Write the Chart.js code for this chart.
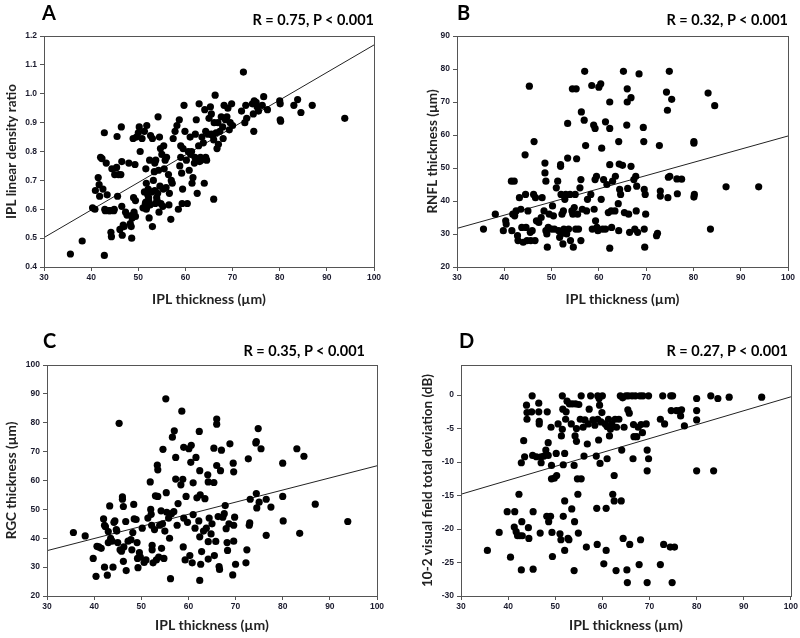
<!DOCTYPE html>
<html>
<head>
<meta charset="utf-8">
<script src="https://cdn.jsdelivr.net/npm/chart.js@4"></script>
<style>
  body { margin: 0; background: #fff; }
  #wrap { position: relative; width: 800px; height: 638px; overflow: hidden; }
  .panel { position: absolute; }
  .lbl { position: absolute; font-family: Lato, "Liberation Sans", sans-serif; font-weight: bold; color: #000; line-height: 1; white-space: nowrap; }
  .letter { font-size: 20px; }
  .stat { font-size: 14.5px; text-align: right; }
</style>
</head>
<body>
<div id="wrap">
  <div class="panel" style="left:0;top:0;width:400px;height:312px"><canvas id="cA"></canvas></div>
  <div class="panel" style="left:400px;top:0;width:400px;height:312px"><canvas id="cB"></canvas></div>
  <div class="panel" style="left:0;top:320px;width:400px;height:318px"><canvas id="cC"></canvas></div>
  <div class="panel" style="left:400px;top:320px;width:400px;height:318px"><canvas id="cD"></canvas></div>

  <div class="lbl letter" style="left:42px;top:2px">A</div>
  <div class="lbl stat" style="right:426px;top:13px">R = 0.75, P &lt; 0.001</div>
  <div class="lbl letter" style="left:457px;top:2px">B</div>
  <div class="lbl stat" style="right:12px;top:13px">R = 0.32, P &lt; 0.001</div>
  <div class="lbl letter" style="left:43px;top:330px">C</div>
  <div class="lbl stat" style="right:435px;top:344px">R = 0.35, P &lt; 0.001</div>
  <div class="lbl letter" style="left:459px;top:330px">D</div>
  <div class="lbl stat" style="right:12px;top:344px">R = 0.27, P &lt; 0.001</div>
</div>
<script>
// IPL thickness (x) vs. each measure (y)
const ptsA = [
  [35.6,0.445],[38.1,0.49],[40.3,0.605],[40.8,0.6],[40.9,0.665],[41.5,0.71],[41.7,0.685],[41.8,0.645],
  [42.0,0.78],[42.3,0.775],[42.5,0.67],[42.8,0.865],[42.8,0.44],[42.9,0.6],[43.0,0.595],[43.2,0.76],
  [43.4,0.65],[43.8,0.595],[44.0,0.595],[44.2,0.52],[44.3,0.505],[44.4,0.74],[44.8,0.595],[44.9,0.6],
  [45.0,0.72],[45.4,0.745],[45.5,0.852],[45.6,0.645],[45.8,0.72],[46.1,0.53],[46.3,0.72],[46.4,0.885],
  [46.5,0.765],[46.5,0.61],[46.6,0.51],[46.8,0.545],[47.0,0.54],[47.3,0.59],[47.6,0.58],[48.0,0.76],
  [48.3,0.55],[48.5,0.54],[48.6,0.5],[48.7,0.57],[48.8,0.58],[48.9,0.845],[49.0,0.64],[49.1,0.59],
  [49.3,0.755],[49.4,0.63],[49.4,0.575],[49.6,0.85],[50.0,0.865],[50.2,0.885],[50.4,0.8],[50.8,0.845],
  [51.0,0.605],[51.3,0.87],[51.3,0.66],[51.5,0.62],[51.6,0.74],[51.6,0.625],[51.7,0.69],[51.7,0.6],
  [51.8,0.89],[51.9,0.61],[52.0,0.65],[52.1,0.67],[52.2,0.63],[52.2,0.64],[52.3,0.57],[52.4,0.77],
  [52.5,0.615],[52.6,0.855],[52.8,0.66],[53.0,0.845],[53.0,0.54],[53.2,0.7],[53.4,0.73],[53.5,0.76],
  [53.5,0.665],[53.6,0.62],[53.7,0.77],[53.9,0.64],[54.0,0.63],[54.1,0.655],[54.2,0.92],[54.3,0.735],
  [54.4,0.59],[54.5,0.85],[54.6,0.68],[54.7,0.81],[54.8,0.62],[55.0,0.79],[55.2,0.61],[55.3,0.67],
  [55.4,0.82],[55.5,0.74],[55.7,0.77],[55.9,0.675],[56.0,0.78],[56.4,0.72],[56.5,0.615],[56.6,0.655],
  [56.9,0.565],[57.0,0.7],[57.2,0.69],[57.4,0.845],[57.8,0.87],[58.2,0.89],[58.5,0.6],[58.7,0.91],
  [58.8,0.75],[59.0,0.78],[59.0,0.82],[59.2,0.725],[59.3,0.62],[59.4,0.67],[59.5,0.81],[59.7,0.96],
  [59.9,0.87],[60.2,0.77],[60.4,0.62],[60.6,0.8],[60.8,0.735],[61.0,0.85],[61.1,0.79],[61.3,0.8],
  [61.4,0.69],[61.6,0.71],[61.9,0.76],[62.0,0.78],[62.1,0.86],[62.3,0.91],[62.5,0.655],[62.6,0.77],
  [62.8,0.82],[62.9,0.965],[63.0,0.765],[63.2,0.78],[63.3,0.77],[63.5,0.85],[63.8,0.83],[64.0,0.69],
  [64.1,0.945],[64.3,0.87],[64.3,0.78],[64.5,0.77],[64.8,0.86],[65.0,0.915],[65.3,0.955],[65.5,0.93],
  [65.5,0.86],[65.8,0.855],[66.0,0.635],[66.0,0.84],[66.1,0.9],[66.3,0.995],[66.5,0.865],[66.7,0.81],
  [66.9,0.9],[67.0,0.825],[67.3,0.87],[67.6,0.92],[67.9,0.885],[68.0,0.845],[68.2,0.96],[68.5,0.91],
  [68.8,0.92],[69.0,0.95],[69.3,0.875],[69.5,0.9],[69.8,0.965],[70.0,0.89],[71.9,0.94],[72.3,1.075],
  [72.6,0.9],[72.8,0.96],[73.0,0.915],[74.2,0.965],[74.4,0.93],[74.5,0.87],[74.6,0.975],[75.0,0.97],
  [75.2,0.955],[75.5,0.94],[76.3,0.96],[76.6,0.99],[77.4,0.945],[80.0,0.975],[80.1,0.965],[80.1,0.91],
  [80.2,0.905],[83.0,0.96],[83.8,0.98],[84.5,0.935],[86.9,0.96],[93.8,0.915]
];
const ptsB = [
  [35.6,31.5],[38.1,36],[39.8,31],[40.3,34],[40.4,33],[41.5,46],[41.6,31],[41.8,36],[42.1,46],[42.2,35.5],
  [42.5,37],[42.8,29.5],[42.9,28],[43.2,41],[43.5,37.5],[43.7,32],[44.0,27.5],[44.4,54],[44.5,42],[44.6,32],
  [44.8,28],[45.0,37],[45.3,74.8],[45.5,30.5],[45.6,28],[45.9,31],[46.2,42],[46.3,58],[46.5,28],[46.6,41],
  [46.8,34],[47.3,33.5],[47.8,35],[48.0,41],[48.4,37],[48.6,51.5],[48.6,48.5],[48.8,31],[48.8,46],[49.0,30],
  [49.1,26],[49.3,32],[49.5,36],[50.0,31.5],[50.2,38.5],[50.4,35.5],[50.6,31.5],[51.0,44],[51.3,46],[51.5,31],
  [51.7,29],[51.9,51],[51.9,50.5],[52.0,42],[52.0,30],[52.2,36],[52.4,27],[52.5,37],[52.6,31.5],[52.8,40.5],
  [53.0,42],[53.2,30],[53.4,53],[53.4,63.5],[53.6,31.5],[53.9,42],[54.0,28],[54.3,37],[54.4,74],[54.5,36],
  [54.6,26],[54.8,38],[55.0,42],[55.1,31.5],[55.2,74],[55.3,52.8],[55.5,36],[55.7,31.5],[56.0,44],[56.2,46.5],
  [56.2,28],[56.3,67],[56.5,37.5],[56.9,64.5],[57.0,79.3],[57.2,56.8],[57.4,37],[57.6,40.5],[58.3,42],[58.5,75],
  [58.6,31.5],[58.9,63],[59.0,37.5],[59.2,62],[59.2,46.5],[59.3,34],[59.5,47.5],[59.6,32],[59.8,31],[60.0,74.5],
  [60.4,75.5],[60.5,40.5],[60.6,56],[60.8,31.5],[61.0,46.5],[61.4,31.5],[61.4,64],[61.7,45],[62.0,36.5],[62.3,62],
  [62.3,70],[62.3,51],[62.3,25.7],[62.6,37],[62.7,32],[62.9,46],[63.4,37],[63.5,47.5],[64.1,39.2],[64.2,58],
  [64.2,31],[64.3,51.2],[64.4,43.5],[64.6,42],[65.0,50.8],[65.2,79.3],[65.4,36.5],[65.9,63],[66.0,74],[66.0,70],
  [66.1,43.8],[66.3,36],[66.5,30.5],[66.8,71.3],[66.8,50.5],[67.4,46.5],[67.6,31.5],[67.8,47.5],[67.9,37],[68.0,44.5],
  [68.2,30.5],[68.5,78.5],[69.4,62.3],[69.5,58],[69.6,43.5],[69.6,31.5],[69.7,26],[69.8,42],[69.9,36],[72.2,29.5],
  [72.4,30.2],[72.8,56.8],[73.0,43],[73.0,41.5],[74.3,73],[74.5,67.5],[74.6,41],[74.7,47.2],[75.0,47.5],[74.9,79.3],
  [75.4,70.8],[76.5,46.7],[76.6,42.2],[77.5,46.6],[80.1,58],[80.1,57.5],[80.2,42],[80.1,41.2],[83.1,72.7],[83.6,31.5],
  [84.5,68.9],[86.9,44.3],[93.8,44.3]
];
const ptsC = [
  [35.6,42],[38.1,40.8],[39.8,33],[40.4,26.8],[40.6,37.2],[41.0,37],[41.5,36.5],[42.0,46.7],[42.2,44.5],[42.2,30],
  [42.4,44],[42.8,27.2],[43.0,42.3],[43.0,38.5],[43.3,51.2],[43.5,40],[43.8,39],[44.0,30],[44.2,45.5],[44.4,46],
  [44.7,43],[44.8,42.5],[45.0,38.5],[45.3,79.8],[45.5,36],[45.8,35.5],[46.0,53.5],[46.0,54.3],[46.2,51],[46.2,32],
  [46.3,37],[46.7,45.8],[46.8,28.8],[47.2,39],[47.8,39.5],[48.0,36],[48.2,42],[48.4,51.7],[48.5,46.7],[48.9,46.5],
  [49.1,38.5],[49.2,33],[49.3,29.8],[49.6,35],[49.8,33.5],[50.2,43.5],[50.6,31.6],[51.0,32.5],[51.4,47],[51.9,59.5],
  [52.0,50],[52.1,48.3],[52.2,44.5],[52.3,37.5],[52.3,36],[52.5,31.5],[52.8,43],[53.0,54.7],[53.2,32.5],[53.4,65.3],
  [53.5,63.7],[53.5,54.5],[53.7,33.5],[53.9,44.5],[54.2,49.5],[54.3,36.5],[54.5,45],[54.6,70.8],[54.8,33],[55.0,42.5],
  [55.2,88.3],[55.3,55.8],[55.4,49],[55.8,47],[56.0,40],[56.2,26],[56.4,48.5],[56.6,75],[56.9,49.2],[57.0,77.2],
  [57.3,68],[57.3,60.5],[57.6,44.5],[57.8,52],[58.4,58.5],[58.6,84],[58.8,60.4],[58.9,37],[59.0,71.5],[59.0,47],
  [59.3,32.5],[59.5,54.5],[59.8,45.5],[60.1,71],[60.3,34],[60.5,66.3],[60.6,72.2],[60.8,31.5],[61.0,59.2],[61.0,48.2],
  [61.4,43.5],[61.6,68],[61.8,54],[62.2,46],[62.3,77],[62.4,63.4],[62.4,40.5],[62.5,55],[62.4,25.4],[62.6,31],
  [62.8,35.4],[63.2,42.5],[63.5,53.7],[63.8,43.5],[64.1,62],[64.2,59.5],[64.2,38.8],[64.2,32.8],[64.4,47],[64.8,41.5],
  [65.0,45],[65.4,71.2],[65.4,59.3],[65.5,34],[65.8,38.9],[66.0,81.3],[66.0,79.5],[66.0,65.2],[66.3,47.5],[66.5,30.2],
  [66.6,29.2],[66.8,63.4],[67.0,70.5],[67.3,47.3],[67.6,48.5],[67.8,51.3],[68.0,43.3],[68.2,38.5],[68.3,35.8],[68.6,45],
  [68.8,72.7],[69.5,66],[69.6,63],[69.4,27.3],[69.6,39],[69.6,44.5],[69.8,47.3],[70.0,31],[72.2,31.5],[72.4,36],
  [72.7,67.5],[72.9,44.5],[73.0,45.3],[73.1,53.5],[74.3,73],[74.4,73.5],[74.4,55.5],[74.5,50.5],[74.8,78],[75.0,52.5],
  [75.4,71],[76.5,41],[76.5,53.5],[77.5,50.8],[80.0,66],[80.0,54.5],[80.1,46],[83.0,71],[83.6,41.7],[84.5,68.4],
  [86.9,51.8],[93.8,45.8]
];
const ptsD = [
  [35.6,-23.2],[38.1,-20.5],[39.8,-17.4],[40.5,-24.2],[41.4,-17.4],[41.3,-19.7],[41.7,-20.4],[42.0,-21],[42.3,-14.8],[42.5,-21],
  [42.8,-10.1],[42.8,-26.1],[42.9,-18.9],[43.0,-21],[43.3,-6.8],[43.5,-9.2],[43.9,-1.5],[44.0,-2.6],[44.0,-3.6],[44.3,-19.8],
  [44.4,-21.4],[45.0,-2.5],[45.1,-0.1],[45.2,-9],[45.3,-17.4],[45.3,-26],[46.0,-9.2],[46.5,-1.2],[46.5,-2.5],[46.6,-3.9],
  [46.6,-4.3],[46.8,-20.6],[47.0,-9.2],[47.0,-10.1],[47.6,-9.1],[48.0,-8.2],[48.2,-18.1],[48.3,-2.5],[48.5,-7.1],[48.5,-9],
  [48.6,-18.9],[49.0,-18.1],[49.1,-4.8],[49.2,-10.5],[49.2,-12.5],[49.3,-20.5],[49.4,-24.1],[49.8,-12.4],[50.2,-8.7],[50.3,-12],
  [50.6,-4.3],[51.0,-20.7],[51.2,-21.6],[51.3,-6.1],[51.5,-0.1],[51.5,-5.1],[51.6,-2.1],[51.7,-10.4],[51.7,-18.1],[52.0,-15.8],
  [52.0,-23.2],[52.0,-8.7],[52.2,-3.6],[52.3,-2.5],[52.5,-0.9],[52.7,-21.4],[52.9,-21.6],[53.0,-1.3],[53.4,-4.3],[53.5,-17],
  [53.6,-1.3],[54.0,-10.5],[54.0,-26.2],[54.1,-18.9],[54.2,-6.1],[54.3,-1.3],[54.5,-5],[54.5,-6.9],[54.7,-12.5],[54.8,-14.8],
  [54.9,-20.6],[55.0,-1.4],[55.3,-3.6],[55.5,-12.5],[55.5,-0.1],[55.9,-4.8],[56.1,-9.1],[56.3,-3.7],[56.6,-22.7],[56.8,-7.3],
  [57.0,-4.3],[57.2,-2.1],[57.5,-0.1],[58.0,-3.7],[58.4,-4.5],[58.7,-9.1],[58.8,-16.9],[58.9,-22.3],[59.0,-0.1],[59.0,-3.6],
  [59.2,-6.7],[59.3,-0.5],[59.4,-1.5],[59.5,-10.2],[59.7,-4.0],[59.9,-2.6],[60.0,-0.1],[60.3,-25.2],[60.6,-4.3],[60.8,-23.2],
  [60.8,-16.9],[61.0,-9.5],[61.0,-4.7],[61.3,-3.6],[61.5,-6.1],[61.7,-5.1],[62.0,-4.3],[62.2,-14.8],[62.5,-12],[62.5,-15.8],
  [62.7,-3.6],[62.9,-26.2],[63.0,-4.8],[63.5,-3.6],[63.8,-0.1],[64.0,-15.8],[64.1,-8.2],[64.3,-0.4],[64.4,-21.4],[64.6,-4.8],
  [65.0,-0.1],[65.2,-26.1],[65.3,-28],[65.4,-2.2],[65.5,-0.1],[65.7,-2.7],[65.8,-22.3],[66.3,-0.1],[66.5,-9.5],[66.6,-4.4],
  [66.7,-6.2],[67.0,-0.1],[67.3,-6.2],[67.6,-4.8],[67.8,-25.3],[68.0,-0.1],[68.1,-21.6],[68.2,-4.4],[68.5,-5.6],[68.6,-0.1],
  [69.3,-4.3],[69.5,-8.2],[69.5,-11.3],[69.5,-28],[69.8,-9.5],[69.8,-0.1],[72.3,-3.6],[72.3,-25.3],[72.8,-0.1],[73.0,-22.3],
  [73.2,-4.3],[74.4,-22.7],[74.5,-0.1],[74.6,-2.3],[74.8,-28],[74.9,-0.1],[75.3,-22.7],[75.7,-2.3],[76.4,-2.3],[76.6,-3.1],
  [76.8,-2.2],[77.4,-4.6],[80.0,-0.5],[80.0,-2.3],[80.0,-3.7],[80.0,-11.3],[83.0,-0.1],[83.6,-11.3],[84.5,-0.5],[86.9,-0.3],
  [93.8,-0.3]
];

// regression line ends at x = 30 and x = 100
const fitX = [30, 100];
const fitA = [0.502, 1.169];
const fitB = [31.7, 59.7];
const fitC = [35.7, 65.1];
const fitD = [-14.8, -0.25];

const xTitle = "IPL thickness (\u00b5m)";
const yTitles = {
  A: "IPL linear density ratio",
  B: "RNFL thickness (\u00b5m)",
  C: "RGC thickness (\u00b5m)",
  D: "10-2 visual field total deviation (dB)"
};

Chart.defaults.font.family = '"Liberation Sans", Arial, sans-serif';
Chart.defaults.color = "#1b1b2e";

// frame around the plot area
const boxPlugin = {
  id: "box",
  afterDraw(chart) {
    const a = chart.chartArea, ctx = chart.ctx;
    ctx.save();
    ctx.strokeStyle = "#555";
    ctx.lineWidth = 1;
    ctx.strokeRect(Math.round(a.left) + 0.5, Math.round(a.top) + 0.5, Math.round(a.right - a.left), Math.round(a.bottom - a.top));
    ctx.restore();
  }
};

function makePanel(id, pts, fit, yTitle, yOpts, pad, yW, xH) {
  const xTitleFont = { family: 'Lato, "Liberation Sans", sans-serif', size: 14, weight: "bold" };
  const yTitleFont = { family: 'Lato, "Liberation Sans", sans-serif', size: 13.5, weight: "bold" };
  const tickFont = { size: 8.5, weight: "bold" };
  new Chart(document.getElementById(id), {
    type: "scatter",
    data: {
      datasets: [
        {
          data: pts.map(p => ({ x: p[0], y: p[1] })),
          backgroundColor: "#000",
          borderWidth: 0,
          pointRadius: 3.6,
          pointHoverRadius: 3.6
        },
        {
          type: "line",
          data: fitX.map((x, i) => ({ x: x, y: fit[i] })),
          borderColor: "#222",
          borderWidth: 1,
          pointRadius: 0,
          fill: false
        }
      ]
    },
    options: {
      responsive: true,
      maintainAspectRatio: false,
      animation: false,
      layout: { padding: pad },
      plugins: { legend: { display: false }, tooltip: { enabled: false } },
      scales: {
        x: {
          type: "linear",
          min: 30, max: 100,
          ticks: { stepSize: 10, font: tickFont, padding: 2, maxRotation: 0 },
          grid: { display: true, drawOnChartArea: false, tickLength: 4, color: "#555" },
          border: { color: "#555" },
          title: { display: true, text: xTitle, font: xTitleFont, color: "#222" },
          afterFit: s => { s.height = xH; }
        },
        y: Object.assign({
          type: "linear",
          grid: { display: true, drawOnChartArea: false, tickLength: 4, color: "#555" },
          border: { color: "#555" },
          title: { display: true, text: yTitle, font: yTitleFont, color: "#222" },
          afterFit: s => { s.width = yW; }
        }, yOpts)
      }
    },
    plugins: [boxPlugin]
  });
}

const tickFontY = { size: 8.5, weight: "bold" };
makePanel("cA", ptsA, fitA, yTitles.A,
  { min: 0.4, max: 1.2, ticks: { stepSize: 0.1, font: tickFontY, padding: 3, callback: v => v.toFixed(1) } },
  { left: 0, top: 36, right: 26, bottom: 0 }, 44, 45);
makePanel("cB", ptsB, fitB, yTitles.B,
  { min: 20, max: 90, ticks: { stepSize: 10, font: tickFontY, padding: 3 } },
  { left: 21, top: 36, right: 12, bottom: 0 }, 36, 45);
makePanel("cC", ptsC, fitC, yTitles.C,
  { min: 20, max: 100, ticks: { stepSize: 10, font: tickFontY, padding: 3 } },
  { left: 0, top: 45, right: 23, bottom: 0 }, 47, 42);
makePanel("cD", ptsD, fitD, yTitles.D,
  { min: -30, max: 4.5, ticks: { stepSize: 5, includeBounds: false, font: tickFontY, padding: 3 } },
  { left: 16, top: 45, right: 9, bottom: 0 }, 45, 42);
</script>
</body>
</html>
